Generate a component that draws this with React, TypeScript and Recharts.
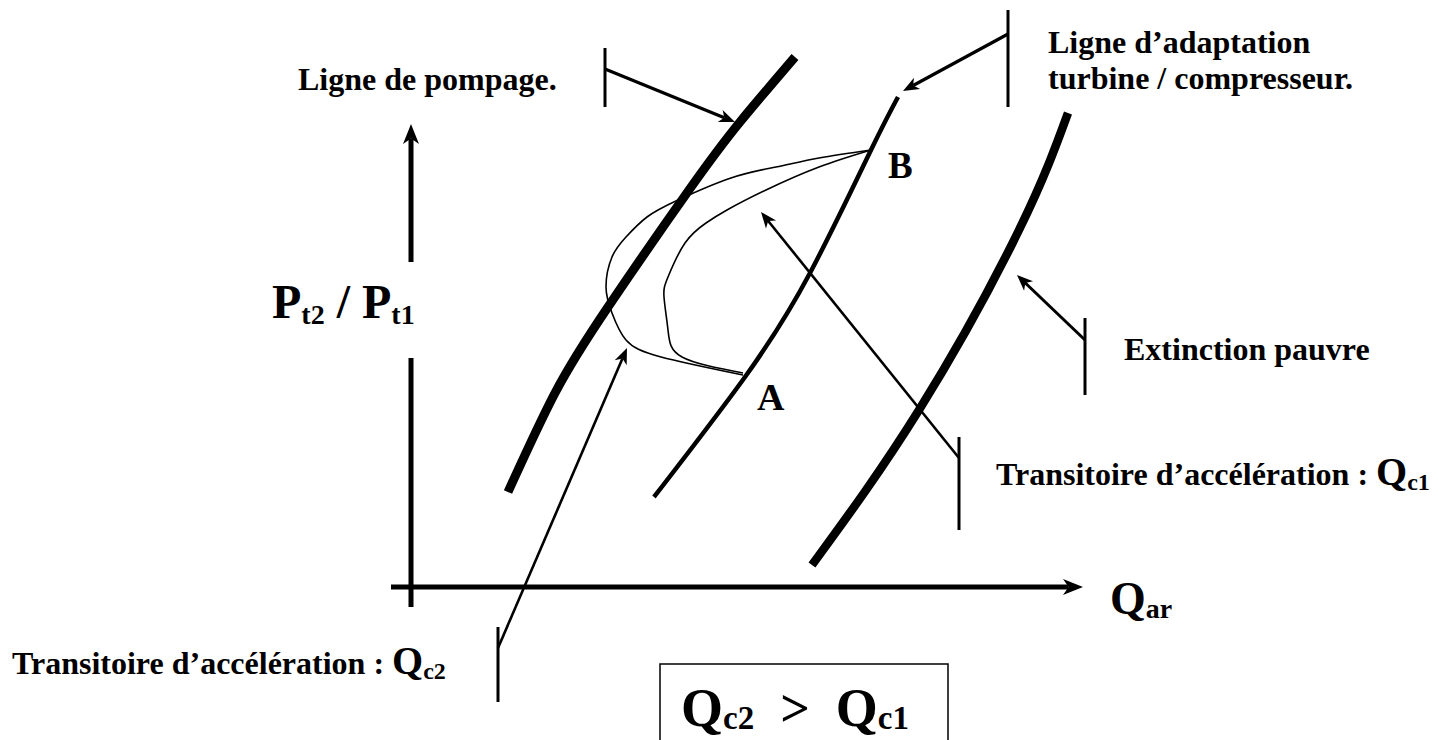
import { ComposedChart, Line, XAxis, YAxis, ReferenceLine, ReferenceDot, ReferenceArea } from 'recharts'

// curves of the compressor map (x = air flow, y = pressure ratio, in picture units)
const surgeLine = [
    { x: 508, y: 492 }, { x: 555, y: 393 }, { x: 608, y: 307 },
    { x: 689, y: 190 }, { x: 740, y: 122 }, { x: 795, y: 57 },
]
const operatingLine = [
    { x: 654, y: 497 }, { x: 745, y: 377 }, { x: 810, y: 273 },
    { x: 871, y: 150 }, { x: 898, y: 97 },
]
const leanBlowout = [
    { x: 812, y: 565 }, { x: 919, y: 410 }, { x: 1019, y: 230 },
    { x: 1068, y: 113 },
]
// acceleration transients from A to B
const transientQc2 = [
    { x: 743, y: 375 }, { x: 661, y: 357 }, { x: 626, y: 340 }, { x: 612, y: 313 },
    { x: 606, y: 287 }, { x: 612, y: 257 }, { x: 626, y: 237 }, { x: 647, y: 217 },
    { x: 678, y: 200 }, { x: 731, y: 178 }, { x: 776, y: 167 }, { x: 819, y: 158 },
    { x: 871, y: 150 },
]
const transientQc1 = [
    { x: 743, y: 373 }, { x: 682, y: 357 }, { x: 668, y: 330 }, { x: 664, y: 297 },
    { x: 668, y: 277 }, { x: 685, y: 243 }, { x: 706, y: 223 }, { x: 727, y: 210 },
    { x: 766, y: 190 }, { x: 819, y: 167 }, { x: 871, y: 150 },
]

const xLabel = 'Q'
const xLabelSub = 'ar'
const yLabel = ['P', 't2', ' / ', 'P', 't1']
const surgeText = 'Ligne de pompage.'
const operatingText = ['Ligne d’adaptation', 'turbine / compresseur.']
const blowoutText = 'Extinction pauvre'
const transientText = 'Transitoire d’accélération : '

const FONT = "'Liberation Serif', 'Times New Roman', serif"

type Part = { t: string; size: number; dy?: number }

const richText = (parts: Part[], sx = 1) => (p: any) => {
    let off = 0
    return (
        <text
            x={0}
            y={0}
            transform={`translate(${p.cx},${p.cy}) scale(${sx},1)`}
            fontFamily={FONT}
            fontWeight="bold"
            fill="#000"
        >
            {parts.map((q, i) => {
                const d = (q.dy ?? 0) - off
                off = q.dy ?? 0
                return (
                    <tspan key={i} fontSize={q.size} dy={d} style={{ whiteSpace: 'pre' }}>
                        {q.t}
                    </tspan>
                )
            })}
        </text>
    )
}

const arrow = (len: number, half: number) => (p: any) => {
    const { x1, y1, x2, y2, stroke, strokeWidth } = p
    const dx = x2 - x1
    const dy = y2 - y1
    const l = Math.hypot(dx, dy)
    const ux = dx / l
    const uy = dy / l
    const nx = -uy
    const ny = ux
    const bx = x2 - ux * len
    const by = y2 - uy * len
    const mx = x2 - ux * len * 0.72
    const my = y2 - uy * len * 0.72
    return (
        <g>
            <line x1={x1} y1={y1} x2={mx} y2={my} stroke={stroke} strokeWidth={strokeWidth} />
            <polygon
                points={`${x2},${y2} ${bx + nx * half},${by + ny * half} ${mx},${my} ${bx - nx * half},${by - ny * half}`}
                fill={stroke}
            />
        </g>
    )
}

const seg = (a: [number, number], b: [number, number]) => [
    { x: a[0], y: a[1] },
    { x: b[0], y: b[1] },
]

const curve = { type: 'natural' as const, stroke: '#000', dot: false, activeDot: false, isAnimationActive: false }

export default function App() {
    return (
        <div style={{ position: 'absolute', left: 0, top: 0, background: '#fff' }}>
            <ComposedChart width={1448} height={740} margin={{ top: 0, right: 0, bottom: 0, left: 0 }}>
                <XAxis dataKey="x" type="number" domain={[0, 1448]} allowDataOverflow hide />
                <YAxis type="number" domain={[0, 740]} reversed allowDataOverflow hide />

                <Line data={surgeLine} dataKey="y" strokeWidth={9} {...curve} />
                <Line data={operatingLine} dataKey="y" strokeWidth={4.5} {...curve} />
                <Line data={leanBlowout} dataKey="y" strokeWidth={8.5} {...curve} />
                <Line data={transientQc2} dataKey="y" strokeWidth={1.6} {...curve} />
                <Line data={transientQc1} dataKey="y" strokeWidth={1.6} {...curve} />

                {/* axes */}
                <ReferenceLine segment={seg([411, 262], [411, 124])} stroke="#000" strokeWidth={5} shape={arrow(20, 8)} />
                <ReferenceLine segment={seg([411, 358], [411, 607])} stroke="#000" strokeWidth={5} />
                <ReferenceLine segment={seg([391, 587], [1083, 587])} stroke="#000" strokeWidth={5} shape={arrow(20, 8)} />

                {/* leaders */}
                <ReferenceLine segment={seg([605, 48], [605, 107])} stroke="#000" strokeWidth={3} />
                <ReferenceLine segment={seg([605, 69], [735, 122])} stroke="#000" strokeWidth={3.2} shape={arrow(16, 6.5)} />
                <ReferenceLine segment={seg([1008, 10], [1008, 107])} stroke="#000" strokeWidth={3} />
                <ReferenceLine segment={seg([1008, 34], [903, 91])} stroke="#000" strokeWidth={3.2} shape={arrow(16, 6.5)} />
                <ReferenceLine segment={seg([1085, 318], [1085, 395])} stroke="#000" strokeWidth={3} />
                <ReferenceLine segment={seg([1085, 340], [1017, 275])} stroke="#000" strokeWidth={3} shape={arrow(16, 6.5)} />
                <ReferenceLine segment={seg([959, 437], [959, 530])} stroke="#000" strokeWidth={3} />
                <ReferenceLine segment={seg([959, 458], [761, 212])} stroke="#000" strokeWidth={2.6} shape={arrow(16, 6.5)} />
                <ReferenceLine segment={seg([498, 627], [498, 702])} stroke="#000" strokeWidth={3} />
                <ReferenceLine segment={seg([498, 648], [627, 348])} stroke="#000" strokeWidth={2.6} shape={arrow(16, 6.5)} />

                <ReferenceArea x1={660} x2={948} y1={664} y2={760} fill="none" stroke="#000" strokeWidth={1.5} ifOverflow="visible" />

                {/* texts */}
                <ReferenceDot x={298} y={90} r={0} shape={richText([{ t: surgeText, size: 32 }])} />
                <ReferenceDot x={1048} y={53} r={0} shape={richText([{ t: operatingText[0], size: 32 }])} />
                <ReferenceDot x={1048} y={89} r={0} shape={richText([{ t: operatingText[1], size: 32 }])} />
                <ReferenceDot x={1124} y={360} r={0} shape={richText([{ t: blowoutText, size: 32 }])} />
                <ReferenceDot
                    x={996}
                    y={485}
                    r={0}
                    shape={richText([{ t: transientText, size: 32 }, { t: 'Q', size: 40 }, { t: 'c1', size: 24, dy: 5 }])}
                />
                <ReferenceDot
                    x={12}
                    y={674}
                    r={0}
                    shape={richText([{ t: transientText, size: 32 }, { t: 'Q', size: 40 }, { t: 'c2', size: 24, dy: 5 }])}
                />
                <ReferenceDot x={757} y={410} r={0} shape={richText([{ t: 'A', size: 38 }])} />
                <ReferenceDot x={888} y={178} r={0} shape={richText([{ t: 'B', size: 37 }])} />
                <ReferenceDot
                    x={272}
                    y={318}
                    r={0}
                    shape={richText([
                        { t: yLabel[0], size: 48 },
                        { t: yLabel[1], size: 28, dy: 6 },
                        { t: yLabel[2], size: 48 },
                        { t: yLabel[3], size: 48 },
                        { t: yLabel[4], size: 28, dy: 6 },
                    ])}
                />
                <ReferenceDot
                    x={1110}
                    y={614}
                    r={0}
                    shape={richText([{ t: xLabel, size: 46 }, { t: xLabelSub, size: 28, dy: 4 }])}
                />
                <ReferenceDot
                    x={681}
                    y={726}
                    r={0}
                    shape={richText([
                        { t: 'Q', size: 54 },
                        { t: 'c2', size: 33, dy: 3 },
                        { t: '  >  ', size: 52 },
                        { t: 'Q', size: 54 },
                        { t: 'c1', size: 33, dy: 3 },
                    ])}
                />
            </ComposedChart>
        </div>
    )
}
